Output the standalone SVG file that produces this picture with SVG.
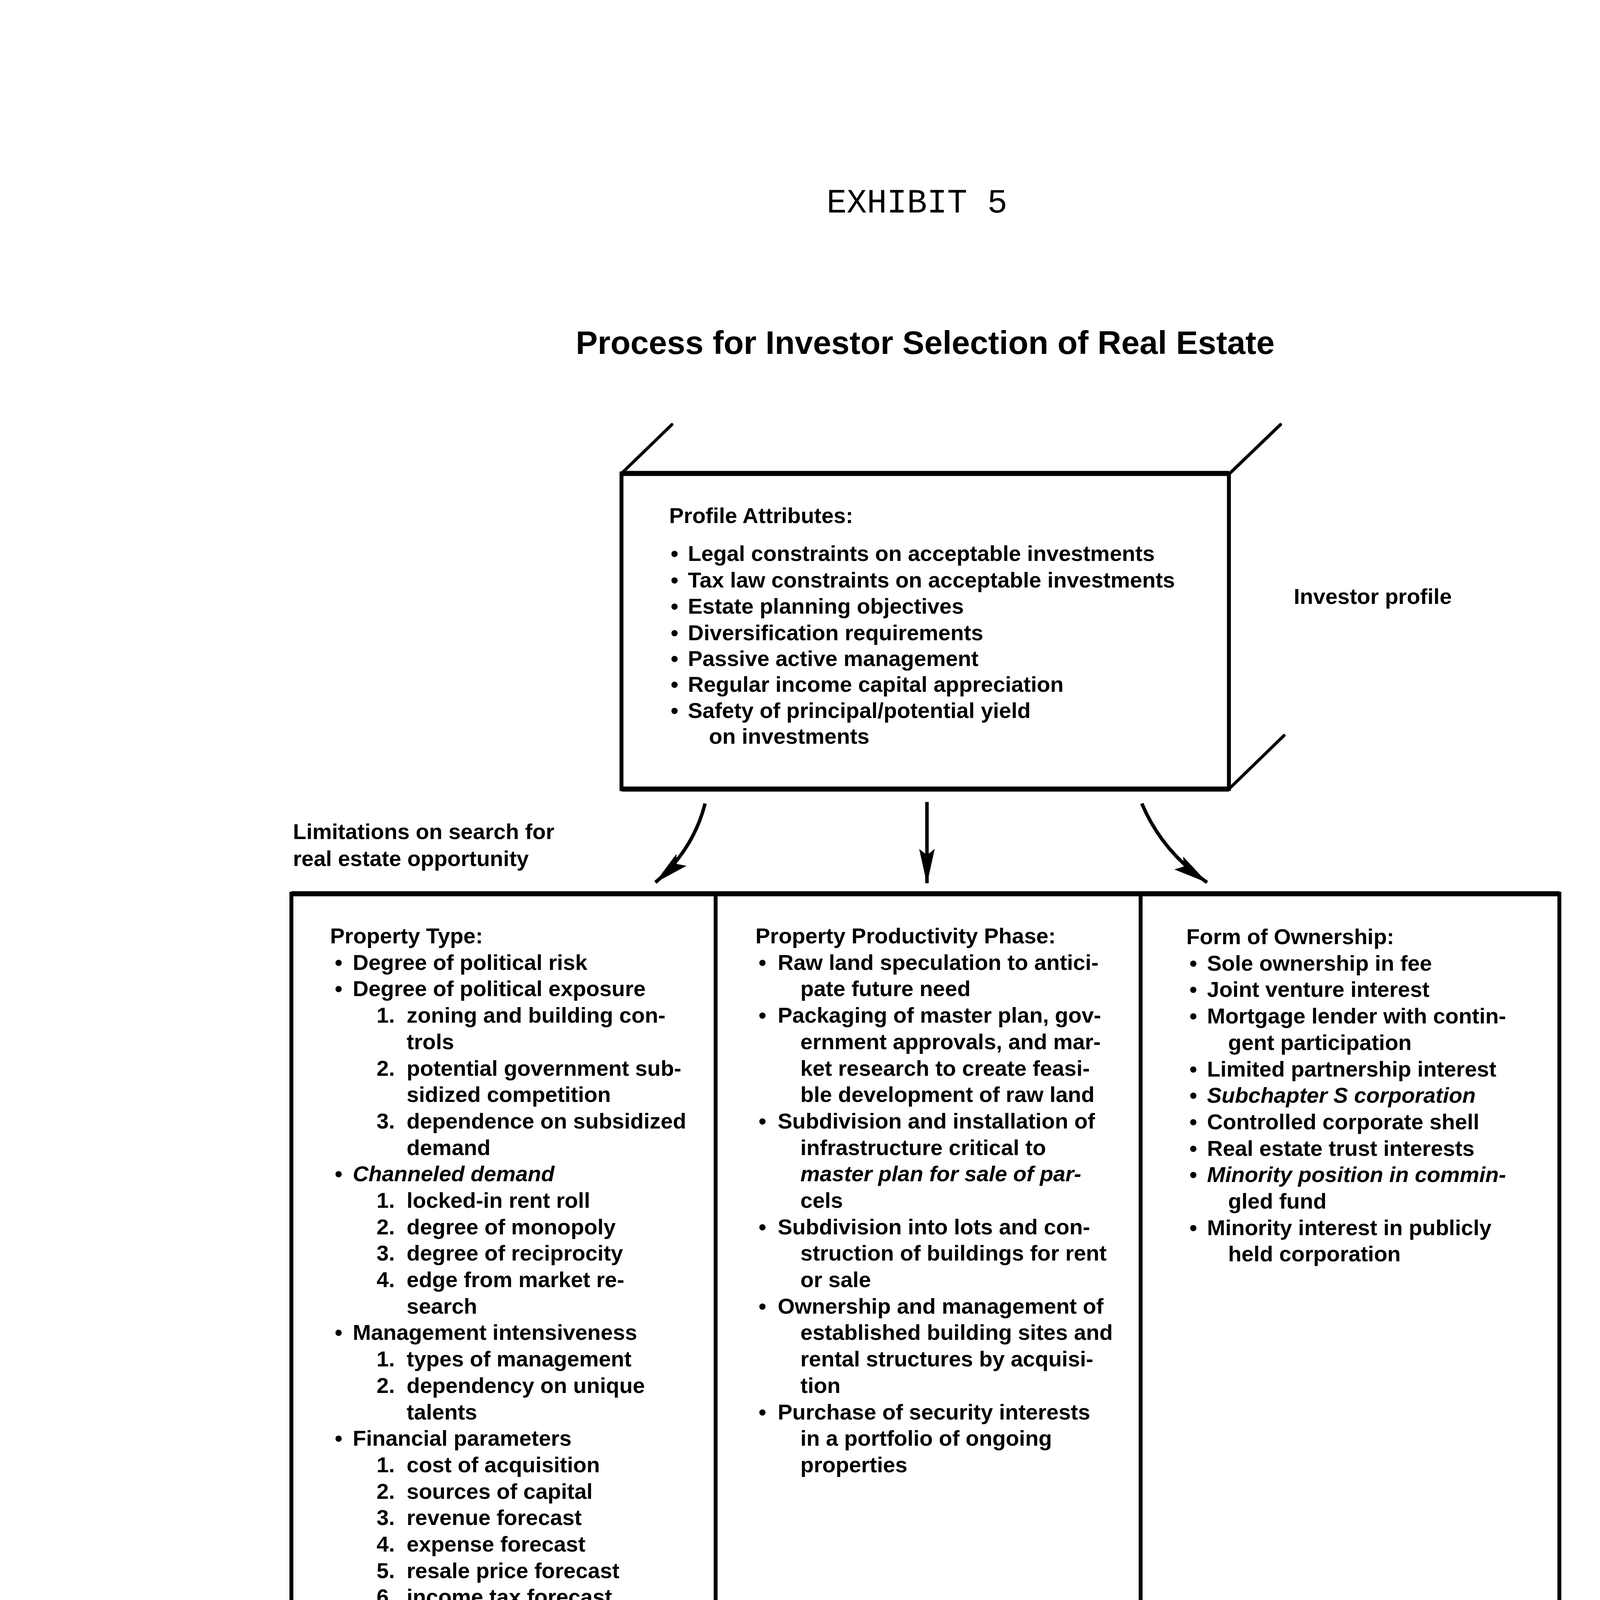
<svg xmlns="http://www.w3.org/2000/svg" width="4992" height="6433" viewBox="0 0 4992 6433">
<style>
.t{font-family:"Liberation Sans",Arial,sans-serif;font-weight:bold;font-size:56px;fill:#000}
.it{font-style:italic}
.box{fill:none;stroke:#000;stroke-width:10}
.edge{stroke:#000;stroke-width:13;fill:none}
.sl{stroke:#000;stroke-width:8;fill:none;stroke-linecap:round}
.conn{stroke:#000;stroke-width:9;fill:none}
.chev{fill:#000}
</style>
<defs>
<marker id="ah" markerUnits="userSpaceOnUse" markerWidth="90" markerHeight="44" viewBox="0 0 90 44" refX="88" refY="22" orient="auto">
<path d="M0,2 L90,22 L0,42 L16,22 Z" fill="#000"/>
</marker>
</defs>
<rect x="0" y="0" width="4992" height="6433" fill="#fff"/>

<g id="header">
<text x="2116" y="544" style="font-family:'Liberation Mono','Courier New',monospace;font-size:88px;fill:#000" textLength="463" lengthAdjust="spacingAndGlyphs">EXHIBIT 5</text>
<text x="4495" y="537" style="font-family:'Liberation Sans',Arial,sans-serif;font-size:94px;fill:#000">8</text>
<text x="1474" y="906" class="t" style="font-size:84px" textLength="1789" lengthAdjust="spacingAndGlyphs">Process for Investor Selection of Real Estate</text>
</g>

<g id="investor-profile">
<rect class="box" x="1591" y="1212" width="1555" height="808"/>
<line class="edge" x1="1591" y1="1212" x2="3146" y2="1212"/>
<line class="edge" x1="1591" y1="2020" x2="3146" y2="2020"/>
<line class="sl" x1="1591" y1="1212" x2="1720" y2="1087"/>
<line class="sl" x1="3148" y1="1212" x2="3278" y2="1087"/>
<line class="sl" x1="3146" y1="2020" x2="3287" y2="1883"/>
<text class="t" x="1713" y="1339">Profile Attributes:</text>
<text class="t" x="1717" y="1436">•<tspan x="1761">Legal constraints on acceptable investments</tspan></text>
<text class="t" x="1717" y="1504">•<tspan x="1761">Tax law constraints on acceptable investments</tspan></text>
<text class="t" x="1717" y="1571">•<tspan x="1761">Estate planning objectives</tspan></text>
<text class="t" x="1717" y="1639">•<tspan x="1761">Diversification requirements</tspan></text>
<text class="t" x="1717" y="1705">•<tspan x="1761">Passive active management</tspan></text>
<text class="t" x="1717" y="1771">•<tspan x="1761">Regular income capital appreciation</tspan></text>
<text class="t" x="1717" y="1838">•<tspan x="1761">Safety of principal/potential yield</tspan></text>
<text class="t" x="1815" y="1904">on investments</text>
<text class="t" x="3312" y="1546">Investor profile</text>
</g>

<g id="limitations-label">
<text class="t" x="750" y="2148">Limitations on search for</text>
<text class="t" x="750" y="2217">real estate opportunity</text>
</g>

<g id="search-box">
<rect class="box" x="746" y="2288" width="3246" height="2064"/>
<line class="edge" x1="746" y1="2288" x2="3992" y2="2288"/>
<line class="edge" x1="746" y1="4352" x2="3992" y2="4352"/>
<line class="box" x1="1832" y1="2288" x2="1832" y2="4352"/>
<line class="box" x1="2920" y1="2288" x2="2920" y2="4352"/>
</g>

<g id="property-type">
<text class="t" x="845" y="2415">Property Type:</text>
<text class="t" x="857" y="2483">•<tspan x="903">Degree of political risk</tspan></text>
<text class="t" x="857" y="2550">•<tspan x="903">Degree of political exposure</tspan></text>
<text class="t" x="964" y="2618">1.<tspan x="1041">zoning and building con-</tspan></text>
<text class="t" x="1041" y="2686">trols</text>
<text class="t" x="964" y="2754">2.<tspan x="1041">potential government sub-</tspan></text>
<text class="t" x="1041" y="2821">sidized competition</text>
<text class="t" x="964" y="2889">3.<tspan x="1041">dependence on subsidized</tspan></text>
<text class="t" x="1041" y="2957">demand</text>
<text class="t" x="857" y="3024">•<tspan x="903" class="it">Channeled demand</tspan></text>
<text class="t" x="964" y="3092">1.<tspan x="1041">locked-in rent roll</tspan></text>
<text class="t" x="964" y="3160">2.<tspan x="1041">degree of monopoly</tspan></text>
<text class="t" x="964" y="3227">3.<tspan x="1041">degree of reciprocity</tspan></text>
<text class="t" x="964" y="3295">4.<tspan x="1041">edge from market re-</tspan></text>
<text class="t" x="1041" y="3363">search</text>
<text class="t" x="857" y="3430">•<tspan x="903">Management intensiveness</tspan></text>
<text class="t" x="964" y="3498">1.<tspan x="1041">types of management</tspan></text>
<text class="t" x="964" y="3566">2.<tspan x="1041">dependency on unique</tspan></text>
<text class="t" x="1041" y="3634">talents</text>
<text class="t" x="857" y="3701">•<tspan x="903">Financial parameters</tspan></text>
<text class="t" x="964" y="3769">1.<tspan x="1041">cost of acquisition</tspan></text>
<text class="t" x="964" y="3837">2.<tspan x="1041">sources of capital</tspan></text>
<text class="t" x="964" y="3904">3.<tspan x="1041">revenue forecast</tspan></text>
<text class="t" x="964" y="3972">4.<tspan x="1041">expense forecast</tspan></text>
<text class="t" x="964" y="4040">5.<tspan x="1041">resale price forecast</tspan></text>
<text class="t" x="964" y="4107">6.<tspan x="1041">income tax forecast</tspan></text>
<text class="t" x="964" y="4175">7<tspan x="1041">measures of risk</tspan></text>
<text class="t" x="964" y="4243">8<tspan x="1041">measures of yield</tspan></text>
</g>

<g id="productivity-phase">
<text class="t" x="1934" y="2415">Property Productivity Phase:</text>
<text class="t" x="1942" y="2483">•<tspan x="1991">Raw land speculation to antici-</tspan></text>
<text class="t" x="2049" y="2550">pate future need</text>
<text class="t" x="1942" y="2618">•<tspan x="1991">Packaging of master plan, gov-</tspan></text>
<text class="t" x="2049" y="2686">ernment approvals, and mar-</text>
<text class="t" x="2049" y="2754">ket research to create feasi-</text>
<text class="t" x="2049" y="2821">ble development of raw land</text>
<text class="t" x="1942" y="2889">•<tspan x="1991">Subdivision and installation of</tspan></text>
<text class="t" x="2049" y="2957">infrastructure critical to</text>
<text class="t it" x="2049" y="3024">master plan for sale of par-</text>
<text class="t" x="2049" y="3092">cels</text>
<text class="t" x="1942" y="3160">•<tspan x="1991">Subdivision into lots and con-</tspan></text>
<text class="t" x="2049" y="3227">struction of buildings for rent</text>
<text class="t" x="2049" y="3295">or sale</text>
<text class="t" x="1942" y="3363">•<tspan x="1991">Ownership and management of</tspan></text>
<text class="t" x="2049" y="3430">established building sites and</text>
<text class="t" x="2049" y="3498">rental structures by acquisi-</text>
<text class="t" x="2049" y="3566">tion</text>
<text class="t" x="1942" y="3634">•<tspan x="1991">Purchase of security interests</tspan></text>
<text class="t" x="2049" y="3701">in a portfolio of ongoing</text>
<text class="t" x="2049" y="3769">properties</text>
</g>

<g id="form-of-ownership">
<text class="t" x="3037" y="2417">Form of Ownership:</text>
<text class="t" x="3045" y="2485">•<tspan x="3090">Sole ownership in fee</tspan></text>
<text class="t" x="3045" y="2552">•<tspan x="3090">Joint venture interest</tspan></text>
<text class="t" x="3045" y="2620">•<tspan x="3090">Mortgage lender with contin-</tspan></text>
<text class="t" x="3144" y="2688">gent participation</text>
<text class="t" x="3045" y="2756">•<tspan x="3090">Limited partnership interest</tspan></text>
<text class="t" x="3045" y="2823">•<tspan x="3090" class="it">Subchapter S corporation</tspan></text>
<text class="t" x="3045" y="2891">•<tspan x="3090">Controlled corporate shell</tspan></text>
<text class="t" x="3045" y="2959">•<tspan x="3090">Real estate trust interests</tspan></text>
<text class="t" x="3045" y="3026">•<tspan x="3090" class="it">Minority position in commin-</tspan></text>
<text class="t" x="3144" y="3094">gled fund</text>
<text class="t" x="3045" y="3162">•<tspan x="3090">Minority interest in publicly</tspan></text>
<text class="t" x="3144" y="3229">held corporation</text>
</g>

<g id="solvency-test">
<rect class="box" x="1765" y="4607" width="1227" height="182"/>
<line class="edge" x1="1765" y1="4607" x2="2992" y2="4607"/>
<line class="edge" x1="1765" y1="4789" x2="2992" y2="4789"/>
<line class="sl" x1="1765" y1="4604" x2="1886" y2="4491"/>
<line class="sl" x1="2995" y1="4607" x2="3107" y2="4493"/>
<line class="sl" x1="2992" y1="4788" x2="3105" y2="4679"/>
<text class="t" x="1864" y="4686">Solvency Test Comparisons of Site</text>
<text class="t" x="1864" y="4752">Matched to Use</text>
</g>

<g id="investment-test">
<rect class="box" x="1765" y="4970" width="1231" height="173"/>
<line class="edge" x1="1765" y1="4970" x2="2996" y2="4970"/>
<line class="edge" x1="1765" y1="5143" x2="2996" y2="5143"/>
<line class="sl" x1="1768" y1="4967" x2="1893" y2="4850"/>
<line class="sl" x1="2998" y1="4970" x2="3108" y2="4860"/>
<line class="sl" x1="2996" y1="5146" x2="3108" y2="5043"/>
<text class="t" x="1864" y="5035">Investment Test Comparisons of Site</text>
<text class="t" x="1864" y="5104">Matched to Use</text>
</g>

<g id="most-probable">
<rect class="box" x="1765" y="5315" width="1235" height="177"/>
<line class="edge" x1="1765" y1="5315" x2="3000" y2="5315"/>
<line class="edge" x1="1765" y1="5492" x2="3000" y2="5492"/>
<line class="sl" x1="1771" y1="5310" x2="1871" y2="5209"/>
<line class="sl" x1="3003" y1="5314" x2="3108" y2="5214"/>
<line class="sl" x1="3000" y1="5496" x2="3102" y2="5398"/>
<text class="t" x="1864" y="5388">Most Probable Real Estate Investment</text>
<text class="t" x="1864" y="5457">Selection</text>
</g>

<g id="side-labels">
<text class="t" x="973" y="4475">Investment search and</text>
<text class="t" x="973" y="4540">negotiation limits</text>
<text class="t" x="973" y="4885">Acceptable risk</text>
<text class="t" x="973" y="4952">investments</text>
<text class="t" x="973" y="5232">Best investments ranked</text>
<text class="t" x="973" y="5301">by probable yield</text>
<text class="t" x="3275" y="4480">Default ratio</text>
<text class="t" x="3275" y="4548">Payback ratios</text>
<text class="t" x="3275" y="4618">Tax crossover points</text>
<text class="t" x="3275" y="4687">and other risk tests</text>
<text class="t" x="3275" y="4904">After tax cash flow</text>
<text class="t" x="3275" y="4974">and appreciation with</text>
<text class="t" x="3275" y="5042">various measures of yield</text>
</g>

<g id="connectors">
<path class="conn" d="M1805,2057 Q1775,2175 1678,2259" marker-end="url(#ah)"/>
<path class="conn" d="M2373,2053 L2373,2261" marker-end="url(#ah)"/>
<path class="conn" d="M2923,2057 Q2975,2180 3090,2259" marker-end="url(#ah)"/>
<path class="conn" d="M2374,4379 L2374,4585" marker-end="url(#ah)"/>
<path class="conn" d="M2374,4808 L2374,4959" marker-end="url(#ah)"/>
<path class="conn" d="M2374,5163 L2374,5295" marker-end="url(#ah)"/>
<path class="chev" d="M1641,4443 L1766,4465 L1641,4489 Q1668,4466 1641,4443 Z"/>
<path class="chev" d="M1645,4857 L1764,4880 L1645,4903 Q1672,4880 1645,4857 Z"/>
<path class="chev" d="M1663,5199 L1780,5221 L1663,5243 Q1690,5221 1663,5199 Z"/>
</g>
</svg>
